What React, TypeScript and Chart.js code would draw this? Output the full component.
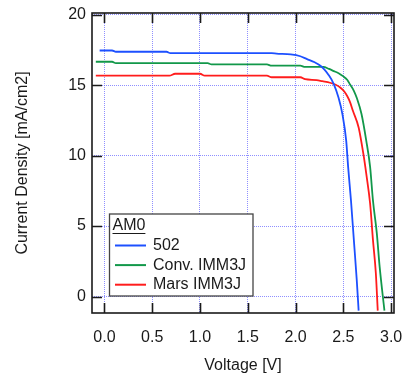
import React, { useEffect, useRef } from "react";
import { Chart, registerables } from "chart.js";

Chart.register(...registerables);

const legendTitle = "AM0";
const seriesNames = ["502", "Conv. IMM3J", "Mars IMM3J"];
const seriesColors = ["#1d50ff", "#12984a", "#ff1c1c"];

const v502 = [-0.05, 0.08, 0.12, 0.65, 0.69, 1.75, 1.8, 1.95, 2.05, 2.12, 2.2, 2.26, 2.3, 2.34, 2.4, 2.45, 2.49, 2.53, 2.55, 2.58, 2.61, 2.64, 2.66];
const j502 = [17.46, 17.46, 17.37, 17.37, 17.27, 17.27, 17.24, 17.18, 17.05, 16.85, 16.62, 16.38, 16.12, 15.78, 15.08, 14.1, 12.95, 11.05, 9.2, 6.8, 4.0, 1.2, -1.0];

const vConv = [-0.09, 0.08, 0.12, 1.08, 1.12, 1.7, 1.75, 2.05, 2.1, 2.29, 2.35, 2.4, 2.45, 2.5, 2.54, 2.57, 2.61, 2.64, 2.69, 2.74, 2.78, 2.81, 2.85, 2.88, 2.93];
const jConv = [16.66, 16.66, 16.56, 16.56, 16.47, 16.47, 16.38, 16.38, 16.29, 16.29, 16.15, 16.0, 15.85, 15.62, 15.38, 15.05, 14.6, 14.1, 12.95, 11.05, 9.2, 6.8, 4.5, 2.1, -1.0];

const vMars = [-0.09, 0.68, 0.74, 1.0, 1.05, 1.7, 1.75, 2.05, 2.1, 2.22, 2.28, 2.36, 2.42, 2.47, 2.51, 2.54, 2.57, 2.6, 2.66, 2.71, 2.74, 2.78, 2.81, 2.84, 2.86];
const jMars = [15.67, 15.67, 15.81, 15.81, 15.67, 15.67, 15.56, 15.56, 15.42, 15.36, 15.28, 15.17, 15.03, 14.82, 14.55, 14.23, 13.8, 13.18, 12.0, 10.1, 8.7, 6.6, 4.0, 1.65, -1.0];

const xTicks = [0, 0.5, 1.0, 1.5, 2.0, 2.5, 3.0];
const xTickLabels = ["0.0", "0.5", "1.0", "1.5", "2.0", "2.5", "3.0"];
const yTicks = [0, 5, 10, 15, 20];
const yTickLabels = ["0", "5", "10", "15", "20"];

const xTitle = "Voltage [V]";
const yTitle = "Current Density [mA/cm2]";

const FONT = "'Liberation Sans', Arial, sans-serif";

const toPoints = (xs: number[], ys: number[]) => xs.map((x, i) => ({ x, y: ys[i] }));

const framePlugin = {
  id: "frameTicks",
  afterDraw(chart: any) {
    const { ctx, chartArea } = chart;
    const { left, right, top, bottom } = chartArea;
    const xs = chart.scales.x;
    const ys = chart.scales.y;
    ctx.save();
    ctx.strokeStyle = "#1a1a1a";
    ctx.lineWidth = 1.6;
    ctx.strokeRect(left, top, right - left, bottom - top);
    const tl = 10;
    ctx.beginPath();
    xTicks.forEach((v) => {
      const px = Math.round(xs.getPixelForValue(v)) + 0.5;
      ctx.moveTo(px, bottom);
      ctx.lineTo(px, bottom - tl);
      ctx.moveTo(px, top);
      ctx.lineTo(px, top + tl);
    });
    yTicks.forEach((v) => {
      const py = Math.round(ys.getPixelForValue(v)) + 0.5;
      ctx.moveTo(left, py);
      ctx.lineTo(left + tl, py);
      ctx.moveTo(right, py);
      ctx.lineTo(right - tl, py);
    });
    ctx.stroke();

    // legend
    const lx = left + 17.5;
    const ly = bottom - 99;
    const lw = 143.5;
    const lh = 82;
    ctx.fillStyle = "#ffffff";
    ctx.fillRect(lx, ly, lw, lh);
    ctx.strokeStyle = "#444";
    ctx.lineWidth = 1.3;
    ctx.strokeRect(lx, ly, lw, lh);
    ctx.font = `16px ${FONT}`;
    ctx.fillStyle = "#1a1a1a";
    ctx.textBaseline = "middle";
    ctx.textAlign = "left";
    const tx = lx + 3;
    const ty = ly + 12;
    ctx.fillText(legendTitle, tx, ty);
    const tw = ctx.measureText(legendTitle).width;
    ctx.lineWidth = 1;
    ctx.strokeStyle = "#1a1a1a";
    ctx.beginPath();
    ctx.moveTo(tx, ty + 7.5);
    ctx.lineTo(tx + tw, ty + 7.5);
    ctx.stroke();
    chart.data.datasets.forEach((ds: any, i: number) => {
      const cy = ly + 31.5 + i * 19.6;
      ctx.strokeStyle = ds.borderColor;
      ctx.lineWidth = 2;
      ctx.beginPath();
      ctx.moveTo(lx + 5.5, cy);
      ctx.lineTo(lx + 36.5, cy);
      ctx.stroke();
      ctx.fillStyle = "#1a1a1a";
      ctx.fillText(ds.label, lx + 43.5, cy);
    });
    ctx.restore();
  },
};

export default function App() {
  const ref = useRef<HTMLCanvasElement>(null);
  useEffect(() => {
    if (!ref.current) return;
    const gridColor = "rgba(105,105,255,0.75)";
    const chart = new Chart(ref.current, {
      type: "line",
      data: {
        datasets: [
          { label: seriesNames[0], data: toPoints(v502, j502), borderColor: seriesColors[0] },
          { label: seriesNames[1], data: toPoints(vConv, jConv), borderColor: seriesColors[1] },
          { label: seriesNames[2], data: toPoints(vMars, jMars), borderColor: seriesColors[2] },
        ].map((d) => ({
          ...d,
          borderWidth: 1.8,
          pointRadius: 0,
          fill: false,
          cubicInterpolationMode: "monotone" as const,
        })),
      },
      options: {
        responsive: false,
        animation: false,
        layout: { padding: { top: 13, right: 10, left: 0, bottom: 0 } },
        plugins: { legend: { display: false }, tooltip: { enabled: false } },
        scales: {
          x: {
            type: "linear",
            min: -0.13,
            max: 3.03,
            afterFit: (s: any) => {
              s.height = 66;
              s.paddingLeft = 0;
              s.paddingRight = 0;
            },
            afterBuildTicks: (s: any) => {
              s.ticks = xTicks.map((v) => ({ value: v }));
            },
            ticks: {
              padding: 15,
              color: "#1a1a1a",
              font: { family: FONT, size: 16 },
              maxRotation: 0,
              callback: (v: any) => {
                const i = xTicks.findIndex((t) => Math.abs(t - v) < 1e-6);
                return i >= 0 ? xTickLabels[i] : "";
              },
            },
            grid: { color: gridColor, lineWidth: 1, drawTicks: false },
            border: { display: false, dash: [1, 1] },
            title: {
              display: true,
              text: xTitle,
              color: "#1a1a1a",
              font: { family: FONT, size: 16 },
              padding: { top: 0, bottom: 4 },
            },
          },
          y: {
            type: "linear",
            min: -1.17,
            max: 20.12,
            afterFit: (s: any) => {
              s.width = 92;
              s.paddingTop = 0;
              s.paddingBottom = 0;
            },
            afterBuildTicks: (s: any) => {
              s.ticks = yTicks.map((v) => ({ value: v }));
            },
            ticks: {
              padding: 6,
              color: "#1a1a1a",
              font: { family: FONT, size: 16 },
              callback: (v: any) => {
                const i = yTicks.findIndex((t) => Math.abs(t - v) < 1e-6);
                return i >= 0 ? yTickLabels[i] : "";
              },
            },
            grid: { color: gridColor, lineWidth: 1, drawTicks: false },
            border: { display: false, dash: [1, 1] },
            title: {
              display: true,
              text: yTitle,
              color: "#1a1a1a",
              font: { family: FONT, size: 16 },
              padding: { top: 13, bottom: 0 },
            },
          },
        },
      },
      plugins: [framePlugin],
    });
    return () => chart.destroy();
  }, []);
  return (
    <div style={{ position: "absolute", left: 0, top: 0, width: 404, height: 379, background: "#fff" }}>
      <canvas ref={ref} width={404} height={379} />
    </div>
  );
}
